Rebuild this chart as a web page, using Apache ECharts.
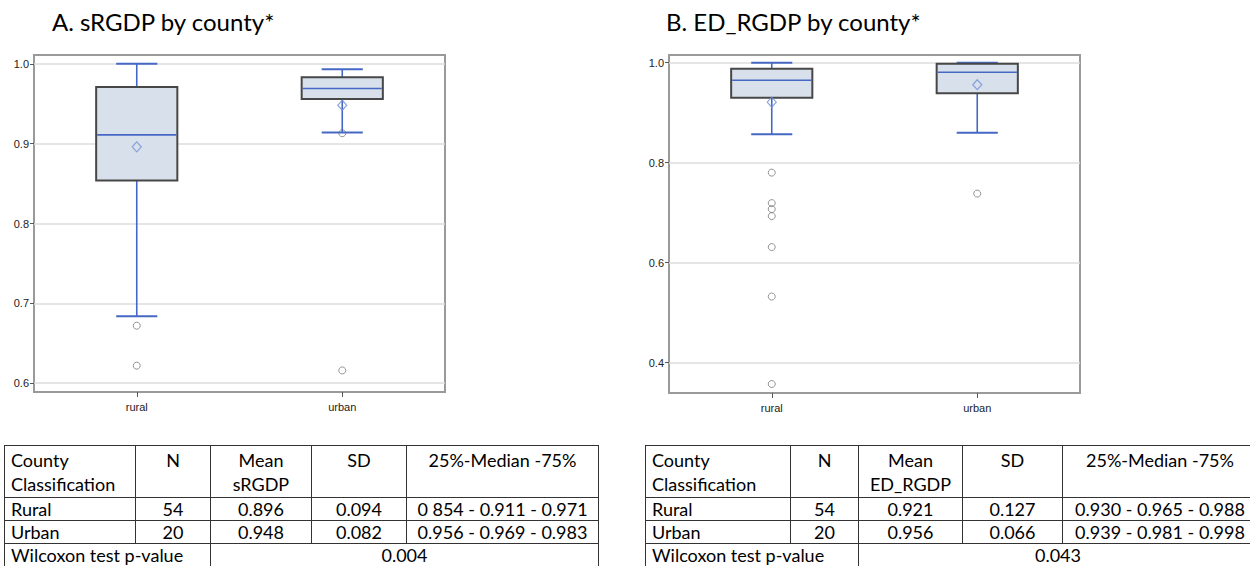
<!DOCTYPE html>
<html><head><meta charset="utf-8">
<script src="https://cdn.jsdelivr.net/npm/echarts@6/dist/echarts.min.js"></script>
<style>
html,body{margin:0;padding:0;background:#fff;width:1250px;height:566px;overflow:hidden;}
body{position:relative;}
#chart{position:absolute;left:0;top:0;width:1250px;height:566px;}
table.st{position:absolute;border-collapse:collapse;font-family:Lato,'Open Sans',sans-serif;font-size:18px;color:#000;table-layout:fixed;}
table.st td{border:1px solid #333;padding:0 6px;height:23px;line-height:22px;text-align:center;white-space:nowrap;overflow:hidden;box-sizing:border-box;}
table.st td.l{text-align:left;}
table.st tr.h td{height:52px;vertical-align:top;line-height:24px;padding-top:2px;}
</style></head>
<body>
<div id="chart"></div>
<script>
// ---------- data ----------
const categories = ['rural', 'urban'];

// [lower whisker, Q1, median, Q3, upper whisker]
const sRGDP_box = [[0.684, 0.854, 0.911, 0.971, 1.000], [0.914, 0.956, 0.969, 0.983, 0.993]];
const sRGDP_mean = [0.896, 0.948];
const sRGDP_outliers = [[0.672, 0.622], [0.913, 0.616]];
const sRGDP_ticks = [0.6, 0.7, 0.8, 0.9, 1.0];

const edRGDP_box = [[0.857, 0.930, 0.965, 0.988, 1.000], [0.860, 0.939, 0.981, 0.998, 1.000]];
const edRGDP_mean = [0.921, 0.956];
const edRGDP_outliers = [[0.780, 0.719, 0.707, 0.693, 0.631, 0.532, 0.357], [0.738]];
const edRGDP_ticks = [0.4, 0.6, 0.8, 1.0];

const titleA = 'A. sRGDP by county*';
const titleB = 'B. ED_RGDP by county*';

const tableA_header = ['County<br>Classification', 'N', 'Mean<br>sRGDP', 'SD', '25%-Median -75%'];
const tableA_rows = [['Rural', '54', '0.896', '0.094', '0 854 - 0.911 - 0.971'],
                     ['Urban', '20', '0.948', '0.082', '0.956 - 0.969 - 0.983']];
const tableA_p = ['Wilcoxon test p-value', '0.004'];

const tableB_header = ['County<br>Classification', 'N', 'Mean<br>ED_RGDP', 'SD', '25%-Median -75%'];
const tableB_rows = [['Rural', '54', '0.921', '0.127', '0.930 - 0.965 - 0.988'],
                     ['Urban', '20', '0.956', '0.066', '0.939 - 0.981 - 0.998']];
const tableB_p = ['Wilcoxon test p-value', '0.043'];

// ---------- tables ----------
function buildTable(left, top, widths, header, rows, p) {
  const t = document.createElement('table');
  t.className = 'st';
  t.style.left = left + 'px';
  t.style.top = top + 'px';
  let h = '<colgroup>' + widths.map(w => '<col style="width:' + w + 'px">').join('') + '</colgroup>';
  h += '<tr class="h">' + header.map((c, i) => '<td class="' + (i === 0 ? 'l' : '') + '">' + c + '</td>').join('') + '</tr>';
  rows.forEach(r => {
    h += '<tr>' + r.map((c, i) => '<td class="' + (i === 0 ? 'l' : '') + '">' + c + '</td>').join('') + '</tr>';
  });
  h += '<tr><td class="l" colspan="2">' + p[0] + '</td><td colspan="3">' + p[1] + '</td></tr>';
  t.innerHTML = h;
  t.style.width = widths.reduce((a, b) => a + b, 0) + 'px';
  document.body.appendChild(t);
}
buildTable(4, 445, [131, 75, 101, 95, 192], tableA_header, tableA_rows, tableA_p);
buildTable(645, 445, [145, 68, 104, 100, 195], tableB_header, tableB_rows, tableB_p);

// ---------- chart ----------
const BLUE = '#4468c4';
const chart = echarts.init(document.getElementById('chart'), null, {renderer: 'svg'});

function boxItem(params, api) {
  const x = api.value(0);
  const lo = api.coord([x, api.value(1)]);
  const q1 = api.coord([x, api.value(2)]);
  const md = api.coord([x, api.value(3)]);
  const q3 = api.coord([x, api.value(4)]);
  const hi = api.coord([x, api.value(5)]);
  const band = api.size([1, 0])[0];
  const bw = band * 0.395, cw = band * 0.2;
  const cx = lo[0];
  const wl = {stroke: BLUE, lineWidth: 1.6};
  return {
    type: 'group',
    children: [
      {type: 'line', shape: {x1: cx, y1: hi[1], x2: cx, y2: q3[1]}, style: wl},
      {type: 'line', shape: {x1: cx, y1: q1[1], x2: cx, y2: lo[1]}, style: wl},
      {type: 'line', shape: {x1: cx - cw / 2, y1: hi[1], x2: cx + cw / 2, y2: hi[1]}, style: {stroke: BLUE, lineWidth: 2}},
      {type: 'line', shape: {x1: cx - cw / 2, y1: lo[1], x2: cx + cw / 2, y2: lo[1]}, style: {stroke: BLUE, lineWidth: 2}},
      {type: 'rect', shape: {x: cx - bw / 2, y: q3[1], width: bw, height: q1[1] - q3[1]},
        style: {fill: '#d8e0eb', stroke: '#474747', lineWidth: 2}},
      {type: 'line', shape: {x1: cx - bw / 2 + 1, y1: md[1], x2: cx + bw / 2 - 1, y2: md[1]}, style: {stroke: BLUE, lineWidth: 1.6}}
    ]
  };
}

function panel(idx, box, mean, outliers, ticks) {
  const boxData = box.map((b, i) => [i].concat(b));
  const meanData = mean.map((m, i) => [i, m]);
  const outData = [];
  outliers.forEach((arr, i) => arr.forEach(v => outData.push([i, v])));
  return [
    {
      type: 'scatter', xAxisIndex: idx, yAxisIndex: idx, z: 1, silent: true,
      data: [],
      markLine: {
        silent: true, symbol: 'none', label: {show: false}, z: 0.5,
        lineStyle: {color: '#dcdcdc', type: 'solid', width: 1.5},
        data: ticks.map(v => ({yAxis: v}))
      }
    },
    {
      type: 'custom', xAxisIndex: idx, yAxisIndex: idx, z: 3, silent: true,
      renderItem: boxItem, encode: {x: 0, y: [1, 2, 3, 4, 5]}, data: boxData
    },
    {
      type: 'scatter', xAxisIndex: idx, yAxisIndex: idx, z: 4, silent: true,
      symbol: 'diamond', symbolSize: [9, 10],
      itemStyle: {color: 'rgba(255,255,255,0)', borderColor: '#6f8fd6', borderWidth: 1.2},
      data: meanData
    },
    {
      type: 'scatter', xAxisIndex: idx, yAxisIndex: idx, z: 2, silent: true,
      symbol: 'circle', symbolSize: 7,
      itemStyle: {color: 'rgba(255,255,255,0)', borderColor: '#7a7a7a', borderWidth: 1},
      data: outData
    }
  ];
}

function xAxis(gi) {
  return {
    type: 'category', gridIndex: gi, data: categories, boundaryGap: true,
    axisLine: {show: false},
    axisTick: {show: true, alignWithLabel: true, length: 5, lineStyle: {color: '#555'}},
    axisLabel: {color: '#222', fontSize: 11, margin: 9, fontFamily: 'Liberation Sans, Arial, sans-serif'},
    splitLine: {show: false}
  };
}
function yAxis(gi, min, max, ticks) {
  return {
    type: 'value', gridIndex: gi, min: min, max: max,
    axisLine: {show: false},
    axisTick: {show: true, length: 4, customValues: ticks, lineStyle: {color: '#555'}},
    axisLabel: {customValues: ticks, color: '#222', fontSize: 11, margin: 5,
      fontFamily: 'Liberation Sans, Arial, sans-serif', formatter: v => v.toFixed(1)},
    splitLine: {show: false}
  };
}

chart.setOption({
  animation: false,
  backgroundColor: '#fff',
  grid: [
    {left: 34, top: 55, width: 411, height: 337, show: true, borderColor: '#9a9a9a', borderWidth: 2, backgroundColor: 'transparent'},
    {left: 669, top: 55, width: 411, height: 338, show: true, borderColor: '#9a9a9a', borderWidth: 2, backgroundColor: 'transparent'}
  ],
  xAxis: [xAxis(0), xAxis(1)],
  yAxis: [yAxis(0, 0.589, 1.011, sRGDP_ticks), yAxis(1, 0.339, 1.0154, edRGDP_ticks)],
  graphic: [
    {type: 'text', left: 52, top: 9, style: {text: titleA, font: '24px Lato, sans-serif', fill: '#000'}},
    {type: 'text', left: 666, top: 9, style: {text: titleB, font: '24px Lato, sans-serif', fill: '#000'}}
  ],
  series: panel(0, sRGDP_box, sRGDP_mean, sRGDP_outliers, sRGDP_ticks)
    .concat(panel(1, edRGDP_box, edRGDP_mean, edRGDP_outliers, edRGDP_ticks))
});
</script>
</body></html>
